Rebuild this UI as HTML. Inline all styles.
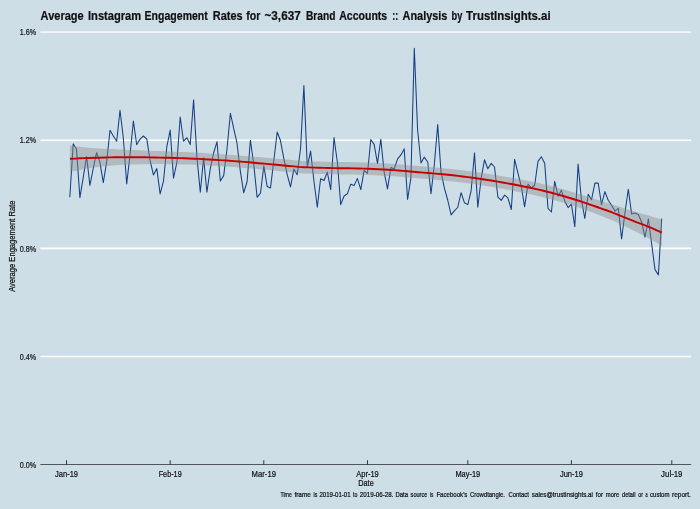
<!DOCTYPE html>
<html lang="en"><head><meta charset="utf-8"><title>Average Instagram Engagement Rates</title>
<style>html,body{margin:0;padding:0;background:#cddee6;}body{width:700px;height:509px;overflow:hidden;}svg{display:block;}text{font-family:"Liberation Sans",sans-serif;fill:#111;stroke:#111;stroke-width:0.22px;}</style></head><body>
<svg width="700" height="509" viewBox="0 0 700 509">
<rect x="0" y="0" width="700" height="509" fill="#cddee6"/>
<line x1="40.4" x2="691.2" y1="32.1" y2="32.1" stroke="#f3f7f9" stroke-width="1.65"/>
<line x1="40.4" x2="691.2" y1="140.2" y2="140.2" stroke="#ffffff" stroke-width="1.65"/>
<line x1="40.4" x2="691.2" y1="248.3" y2="248.3" stroke="#ffffff" stroke-width="1.65"/>
<line x1="40.4" x2="691.2" y1="356.5" y2="356.5" stroke="#ffffff" stroke-width="1.65"/>
<polyline points="69.8,197.2 73.2,143.8 76.5,149.2 79.9,197.6 83.2,177.6 86.6,156.5 89.9,185.4 93.3,168.0 96.6,152.7 99.9,162.2 103.3,182.6 106.6,162.2 110.0,130.2 113.3,136.0 116.7,141.2 120.0,110.2 123.3,137.8 126.7,183.9 130.0,155.0 133.4,121.0 136.7,144.7 140.1,139.1 143.4,136.0 146.8,139.1 150.1,160.4 153.4,174.9 156.8,168.6 160.1,193.9 163.5,181.2 166.8,146.9 170.2,130.1 173.5,178.1 176.9,162.2 180.2,117.0 183.5,141.2 186.9,137.7 190.2,144.6 193.6,99.9 196.9,156.9 200.3,192.2 203.6,157.9 206.9,192.2 210.3,168.7 213.6,153.0 217.0,141.8 220.3,181.0 223.7,175.6 227.0,149.0 230.4,113.3 233.7,128.4 237.0,143.2 240.4,171.6 243.7,192.8 247.1,181.5 250.4,140.2 253.8,164.8 257.1,197.3 260.5,193.2 263.8,165.7 267.1,186.4 270.5,187.9 273.8,160.8 277.2,132.0 280.5,140.8 283.9,158.9 287.2,174.6 290.5,186.9 293.9,169.1 297.2,174.7 300.6,148.0 303.9,85.6 307.3,166.9 310.6,151.1 314.0,181.5 317.3,207.3 320.6,178.8 324.0,180.5 327.3,172.1 330.7,189.6 334.0,137.5 337.4,162.5 340.7,204.6 344.1,196.0 347.4,193.8 350.7,184.2 354.1,185.6 357.4,178.4 360.8,189.6 364.1,170.3 367.5,173.3 370.8,139.5 374.1,144.4 377.5,163.4 380.8,139.2 384.2,172.4 387.5,188.9 390.9,167.6 394.2,169.0 397.6,158.9 400.9,154.9 404.2,148.9 407.6,199.5 410.9,177.9 414.3,48.2 417.6,130.0 421.0,163.0 424.3,157.1 427.7,162.0 431.0,193.8 434.3,165.0 437.7,124.6 441.0,171.9 444.4,188.2 447.7,200.0 451.1,214.9 454.4,210.8 457.7,207.5 461.1,192.7 464.4,202.7 467.8,204.6 471.1,190.9 474.5,152.9 477.8,207.3 481.2,178.2 484.5,159.8 487.8,168.8 491.2,163.4 494.5,167.0 497.9,197.2 501.2,200.4 504.6,195.1 507.9,197.8 511.3,209.5 514.6,159.3 517.9,172.8 521.3,186.4 524.6,206.8 528.0,184.2 531.3,187.8 534.7,185.0 538.0,161.4 541.3,156.8 544.7,163.2 548.0,208.4 551.4,212.0 554.7,181.3 558.1,196.2 561.4,190.3 564.8,201.2 568.1,207.6 571.4,204.2 574.8,226.6 578.1,164.1 581.5,200.2 584.8,218.5 588.2,194.3 591.5,199.8 594.9,183.1 598.2,183.1 601.5,204.7 604.9,191.6 608.2,200.2 611.6,205.3 614.9,211.1 618.3,208.4 621.6,239.0 624.9,213.2 628.3,189.2 631.6,213.9 635.0,213.1 638.3,214.5 641.7,222.3 645.0,237.1 648.4,219.0 651.7,244.2 655.0,269.6 658.4,274.9 661.7,218.6" fill="none" stroke="#173f83" stroke-width="1.05" stroke-linejoin="round" stroke-linecap="butt"/>
<polygon points="69.9,145.5 74.9,146.2 79.8,146.8 84.8,147.3 89.8,147.8 94.8,148.2 99.7,148.5 104.7,148.8 109.7,149.0 114.7,149.2 119.6,149.5 124.6,149.7 129.6,149.9 134.6,150.1 139.5,150.3 144.5,150.5 149.5,150.7 154.5,150.9 159.4,151.0 164.4,151.2 169.4,151.4 174.4,151.7 179.3,151.9 184.3,152.1 189.3,152.3 194.2,152.5 199.2,152.8 204.2,153.1 209.2,153.4 214.1,153.7 219.1,154.0 224.1,154.4 229.1,154.7 234.0,155.1 239.0,155.5 244.0,155.9 249.0,156.3 253.9,156.7 258.9,157.1 263.9,157.6 268.9,158.0 273.8,158.4 278.8,158.8 283.8,159.3 288.8,159.8 293.7,160.3 298.7,160.7 303.7,161.0 308.6,161.2 313.6,161.4 318.6,161.5 323.6,161.7 328.5,161.8 333.5,161.9 338.5,162.0 343.5,162.0 348.4,162.1 353.4,162.2 358.4,162.3 363.4,162.4 368.3,162.6 373.3,162.8 378.3,163.1 383.3,163.3 388.2,163.6 393.2,164.0 398.2,164.3 403.2,164.7 408.1,165.2 413.1,165.6 418.1,166.1 423.1,166.5 428.0,166.9 433.0,167.3 438.0,167.7 442.9,168.2 447.9,168.7 452.9,169.2 457.9,169.7 462.8,170.3 467.8,171.0 472.8,171.6 477.8,172.3 482.7,173.0 487.7,173.8 492.7,174.5 497.7,175.3 502.6,176.2 507.6,177.0 512.6,177.9 517.6,178.8 522.5,179.7 527.5,180.7 532.5,181.7 537.5,182.8 542.4,183.9 547.4,185.1 552.4,186.4 557.3,187.7 562.3,189.1 567.3,190.5 572.3,191.9 577.2,193.4 582.2,195.0 587.2,196.6 592.2,198.2 597.1,199.8 602.1,201.3 607.1,202.9 612.1,204.5 617.0,206.0 622.0,207.6 627.0,209.2 632.0,210.8 636.9,212.3 641.9,213.7 646.9,215.1 651.9,216.5 656.8,217.9 661.8,219.3 661.8,245.7 656.8,242.7 651.9,240.0 646.9,237.3 641.9,234.7 636.9,232.3 632.0,229.8 627.0,227.3 622.0,224.9 617.0,222.5 612.1,220.3 607.1,218.2 602.1,216.2 597.1,214.3 592.2,212.4 587.2,210.6 582.2,208.8 577.2,207.1 572.3,205.5 567.3,203.9 562.3,202.5 557.3,201.1 552.4,199.7 547.4,198.4 542.4,197.1 537.5,196.0 532.5,194.8 527.5,193.7 522.5,192.7 517.6,191.7 512.6,190.7 507.6,189.7 502.6,188.8 497.7,187.9 492.7,187.1 487.7,186.2 482.7,185.5 477.8,184.7 472.8,184.0 467.8,183.3 462.8,182.7 457.9,182.0 452.9,181.4 447.9,180.9 442.9,180.4 438.0,180.0 433.0,179.5 428.0,179.1 423.1,178.7 418.1,178.3 413.1,177.8 408.1,177.4 403.2,177.0 398.2,176.6 393.2,176.2 388.2,176.0 383.3,175.7 378.3,175.4 373.3,175.2 368.3,175.0 363.4,174.8 358.4,174.7 353.4,174.6 348.4,174.5 343.5,174.4 338.5,174.4 333.5,174.3 328.5,174.2 323.6,174.1 318.6,173.9 313.6,173.8 308.6,173.6 303.7,173.4 298.7,173.1 293.7,172.6 288.8,172.1 283.8,171.6 278.8,171.1 273.8,170.6 268.9,170.1 263.9,169.7 258.9,169.2 253.9,168.7 249.0,168.3 244.0,167.9 239.0,167.5 234.0,167.1 229.1,166.8 224.1,166.4 219.1,166.1 214.1,165.8 209.2,165.5 204.2,165.3 199.2,165.0 194.2,164.8 189.3,164.6 184.3,164.5 179.3,164.4 174.4,164.2 169.4,164.2 164.4,164.1 159.4,164.1 154.5,164.1 149.5,164.1 144.5,164.2 139.5,164.3 134.6,164.4 129.6,164.5 124.6,164.7 119.6,165.0 114.7,165.3 109.7,165.7 104.7,166.2 99.7,166.8 94.8,167.4 89.8,168.1 84.8,169.0 79.8,169.9 74.9,170.9 69.9,172.1" fill="#8c8c8c" fill-opacity="0.43"/>
<polyline points="69.9,158.8 74.9,158.6 79.8,158.3 84.8,158.1 89.8,158.0 94.8,157.8 99.7,157.7 104.7,157.5 109.7,157.4 114.7,157.3 119.6,157.2 124.6,157.2 129.6,157.2 134.6,157.2 139.5,157.3 144.5,157.3 149.5,157.4 154.5,157.5 159.4,157.6 164.4,157.7 169.4,157.8 174.4,158.0 179.3,158.1 184.3,158.3 189.3,158.5 194.2,158.7 199.2,158.9 204.2,159.2 209.2,159.5 214.1,159.7 219.1,160.1 224.1,160.4 229.1,160.7 234.0,161.1 239.0,161.5 244.0,161.9 249.0,162.3 253.9,162.7 258.9,163.2 263.9,163.6 268.9,164.1 273.8,164.5 278.8,165.0 283.8,165.5 288.8,166.0 293.7,166.4 298.7,166.9 303.7,167.2 308.6,167.4 313.6,167.6 318.6,167.7 323.6,167.9 328.5,168.0 333.5,168.1 338.5,168.2 343.5,168.2 348.4,168.3 353.4,168.4 358.4,168.5 363.4,168.6 368.3,168.8 373.3,169.0 378.3,169.3 383.3,169.5 388.2,169.8 393.2,170.1 398.2,170.5 403.2,170.9 408.1,171.3 413.1,171.7 418.1,172.2 423.1,172.6 428.0,173.0 433.0,173.4 438.0,173.9 442.9,174.3 447.9,174.8 452.9,175.3 457.9,175.9 462.8,176.5 467.8,177.1 472.8,177.8 477.8,178.5 482.7,179.2 487.7,180.0 492.7,180.8 497.7,181.6 502.6,182.5 507.6,183.4 512.6,184.3 517.6,185.2 522.5,186.2 527.5,187.2 532.5,188.3 537.5,189.4 542.4,190.5 547.4,191.8 552.4,193.0 557.3,194.4 562.3,195.8 567.3,197.2 572.3,198.7 577.2,200.3 582.2,201.9 587.2,203.6 592.2,205.3 597.1,207.0 602.1,208.8 607.1,210.5 612.1,212.4 617.0,214.3 622.0,216.3 627.0,218.3 632.0,220.3 636.9,222.3 641.9,224.2 646.9,226.2 651.9,228.2 656.8,230.3 661.8,232.5" fill="none" stroke="#c60000" stroke-width="1.95" stroke-linejoin="round"/>
<line x1="40.4" x2="691.2" y1="464.5" y2="464.5" stroke="#333" stroke-width="0.8"/>
<line x1="66.5" x2="66.5" y1="460.2" y2="464.5" stroke="#222" stroke-width="0.9"/>
<text x="66.5" y="477.1" font-size="9.2" text-anchor="middle" textLength="23" lengthAdjust="spacingAndGlyphs">Jan-19</text>
<line x1="170.2" x2="170.2" y1="460.2" y2="464.5" stroke="#222" stroke-width="0.9"/>
<text x="170.2" y="477.1" font-size="9.2" text-anchor="middle" textLength="23" lengthAdjust="spacingAndGlyphs">Feb-19</text>
<line x1="263.8" x2="263.8" y1="460.2" y2="464.5" stroke="#222" stroke-width="0.9"/>
<text x="263.8" y="477.1" font-size="9.2" text-anchor="middle" textLength="24.4" lengthAdjust="spacingAndGlyphs">Mar-19</text>
<line x1="367.5" x2="367.5" y1="460.2" y2="464.5" stroke="#222" stroke-width="0.9"/>
<text x="367.5" y="477.1" font-size="9.2" text-anchor="middle" textLength="22.6" lengthAdjust="spacingAndGlyphs">Apr-19</text>
<line x1="467.8" x2="467.8" y1="460.2" y2="464.5" stroke="#222" stroke-width="0.9"/>
<text x="467.8" y="477.1" font-size="9.2" text-anchor="middle" textLength="24.8" lengthAdjust="spacingAndGlyphs">May-19</text>
<line x1="571.4" x2="571.4" y1="460.2" y2="464.5" stroke="#222" stroke-width="0.9"/>
<text x="571.4" y="477.1" font-size="9.2" text-anchor="middle" textLength="23" lengthAdjust="spacingAndGlyphs">Jun-19</text>
<line x1="671.8" x2="671.8" y1="460.2" y2="464.5" stroke="#222" stroke-width="0.9"/>
<text x="671.8" y="477.1" font-size="9.2" text-anchor="middle" textLength="21.4" lengthAdjust="spacingAndGlyphs">Jul-19</text>
<text x="36.1" y="35.3" font-size="9.4" text-anchor="end" textLength="16.4" lengthAdjust="spacingAndGlyphs">1.6%</text>
<text x="36.1" y="143.4" font-size="9.4" text-anchor="end" textLength="16.4" lengthAdjust="spacingAndGlyphs">1.2%</text>
<text x="36.1" y="251.5" font-size="9.4" text-anchor="end" textLength="16.4" lengthAdjust="spacingAndGlyphs">0.8%</text>
<text x="36.1" y="359.7" font-size="9.4" text-anchor="end" textLength="16.4" lengthAdjust="spacingAndGlyphs">0.4%</text>
<text x="36.1" y="467.7" font-size="9.4" text-anchor="end" textLength="16.4" lengthAdjust="spacingAndGlyphs">0.0%</text>
<text y="20.1" font-size="12.6" font-weight="bold" fill="#000" stroke="#000" stroke-width="0.45"><tspan x="40.60" textLength="43.10" lengthAdjust="spacingAndGlyphs">Average</tspan> <tspan x="88.00" textLength="53.20" lengthAdjust="spacingAndGlyphs">Instagram</tspan> <tspan x="144.60" textLength="63.20" lengthAdjust="spacingAndGlyphs">Engagement</tspan> <tspan x="212.80" textLength="29.80" lengthAdjust="spacingAndGlyphs">Rates</tspan> <tspan x="246.20" textLength="14.10" lengthAdjust="spacingAndGlyphs">for</tspan> <tspan x="264.50" textLength="36.20" lengthAdjust="spacingAndGlyphs">~3,637</tspan> <tspan x="305.90" textLength="29.50" lengthAdjust="spacingAndGlyphs">Brand</tspan> <tspan x="339.20" textLength="48.00" lengthAdjust="spacingAndGlyphs">Accounts</tspan> <tspan x="392.30" textLength="5.90" lengthAdjust="spacingAndGlyphs">::</tspan> <tspan x="402.60" textLength="44.80" lengthAdjust="spacingAndGlyphs">Analysis</tspan> <tspan x="451.50" textLength="10.80" lengthAdjust="spacingAndGlyphs">by</tspan> <tspan x="466.10" textLength="84.50" lengthAdjust="spacingAndGlyphs">TrustInsights.ai</tspan></text>
<text x="366" y="485.6" font-size="8.8" text-anchor="middle" textLength="15.5" lengthAdjust="spacingAndGlyphs">Date</text>
<text transform="translate(14.6,246.2) rotate(-90)" font-size="8.8" text-anchor="middle" textLength="91.3" lengthAdjust="spacingAndGlyphs">Average Engagement Rate</text>
<text y="497.1" font-size="7.1" stroke-width="0.15"><tspan x="280.4" textLength="11.4" lengthAdjust="spacingAndGlyphs">Time</tspan> <tspan x="294.4" textLength="16.6" lengthAdjust="spacingAndGlyphs">frame</tspan> <tspan x="313.6" textLength="3.8" lengthAdjust="spacingAndGlyphs">is</tspan> <tspan x="319.4" textLength="31.2" lengthAdjust="spacingAndGlyphs">2019-01-01</tspan> <tspan x="353" textLength="4.4" lengthAdjust="spacingAndGlyphs">to</tspan> <tspan x="359.8" textLength="33.6" lengthAdjust="spacingAndGlyphs">2019-06-28.</tspan> <tspan x="395.4" textLength="12.6" lengthAdjust="spacingAndGlyphs">Data</tspan> <tspan x="410.6" textLength="16.8" lengthAdjust="spacingAndGlyphs">source</tspan> <tspan x="430" textLength="3.4" lengthAdjust="spacingAndGlyphs">is</tspan> <tspan x="436.4" textLength="31.0" lengthAdjust="spacingAndGlyphs">Facebook's</tspan> <tspan x="470" textLength="35.0" lengthAdjust="spacingAndGlyphs">Crowdtangle.</tspan> <tspan x="508.4" textLength="20.6" lengthAdjust="spacingAndGlyphs">Contact</tspan> <tspan x="531.8" textLength="61.2" lengthAdjust="spacingAndGlyphs">sales@trustinsights.ai</tspan> <tspan x="595.8" textLength="7.2" lengthAdjust="spacingAndGlyphs">for</tspan> <tspan x="605.8" textLength="13.5" lengthAdjust="spacingAndGlyphs">more</tspan> <tspan x="622" textLength="13.5" lengthAdjust="spacingAndGlyphs">detail</tspan> <tspan x="638.3" textLength="4.7" lengthAdjust="spacingAndGlyphs">or</tspan> <tspan x="645.5" textLength="2.1" lengthAdjust="spacingAndGlyphs">a</tspan> <tspan x="650" textLength="19.5" lengthAdjust="spacingAndGlyphs">custom</tspan> <tspan x="672" textLength="18.9" lengthAdjust="spacingAndGlyphs">report.</tspan></text>
</svg></body></html>
